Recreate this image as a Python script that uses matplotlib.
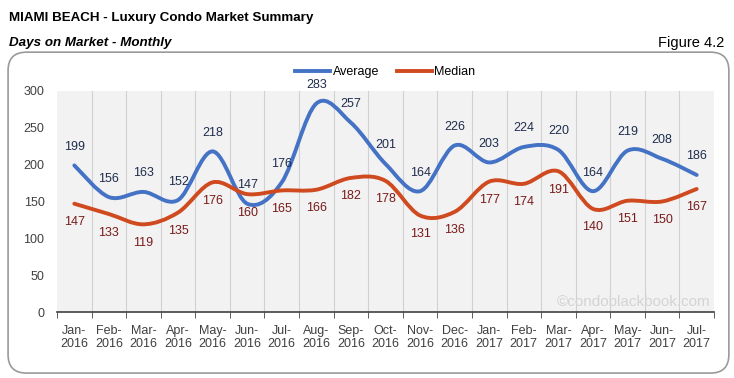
import numpy as np
import matplotlib.pyplot as plt
from matplotlib.path import Path
from matplotlib.patches import PathPatch, FancyBboxPatch

plt.rcParams['font.family'] = ['Liberation Sans', 'DejaVu Sans']

# Data
months = ['Jan-\n2016', 'Feb-\n2016', 'Mar-\n2016', 'Apr-\n2016', 'May-\n2016', 'Jun-\n2016',
          'Jul-\n2016', 'Aug-\n2016', 'Sep-\n2016', 'Oct-\n2016', 'Nov-\n2016', 'Dec-\n2016',
          'Jan-\n2017', 'Feb-\n2017', 'Mar-\n2017', 'Apr-\n2017', 'May-\n2017', 'Jun-\n2017',
          'Jul-\n2017']
average = [199, 156, 163, 152, 218, 147, 176, 283, 257, 201, 164, 226, 203, 224, 220, 164, 219, 208, 186]
median = [147, 133, 119, 135, 176, 160, 165, 166, 182, 178, 131, 136, 177, 174, 191, 140, 151, 150, 167]

BLUE = '#4472c4'
RED = '#d04a1f'


def smooth_path(x, y):
    # cubic bezier through the points (Excel-like smoothed line)
    x = np.asarray(x, float)
    y = np.asarray(y, float)
    n = len(x)
    verts = [(x[0], y[0])]
    codes = [Path.MOVETO]
    for i in range(n - 1):
        x0, y0 = (x[i - 1], y[i - 1]) if i > 0 else (x[i], y[i])
        x3, y3 = (x[i + 2], y[i + 2]) if i + 2 < n else (x[i + 1], y[i + 1])
        c1 = (x[i] + (x[i + 1] - x0) / 6, y[i] + (y[i + 1] - y0) / 6)
        c2 = (x[i + 1] - (x3 - x[i]) / 6, y[i + 1] - (y3 - y[i]) / 6)
        verts += [c1, c2, (x[i + 1], y[i + 1])]
        codes += [Path.CURVE4] * 3
    return Path(verts, codes)


fig = plt.figure(figsize=(7.34, 3.78), dpi=100)

# rounded frame
frame = FancyBboxPatch((0.011, 0.013), 0.982, 0.849, boxstyle='round,pad=0,rounding_size=0.025',
                       transform=fig.transFigure, facecolor='white', edgecolor='#9a9a9a', lw=1.2,
                       mutation_aspect=734 / 378, zorder=-5)
fig.patches.append(frame)

fig.text(0.012, 0.952, 'MIAMI BEACH - Luxury Condo Market Summary', fontsize=9.6, fontweight='bold',
         va='center', ha='left')
fig.text(0.012, 0.886, 'Days on Market - Monthly', fontsize=9.6, fontweight='bold', style='italic',
         va='center', ha='left')
fig.text(0.987, 0.886, 'Figure 4.2', fontsize=10.5, va='center', ha='right')

ax = fig.add_axes([0.0777, 0.1746, 0.895, 0.5847])
ax.set_facecolor('#f2f2f2')
x = np.arange(len(months))
ax.set_xlim(-0.5, len(months) - 0.5)
ax.set_ylim(0, 300)

for b in np.arange(0.5, len(months) - 0.5, 1):
    ax.axvline(b, color='#d0d0d0', lw=0.8, zorder=1)

ax.add_patch(PathPatch(smooth_path(x, average), facecolor='none', edgecolor=BLUE, lw=2.8, zorder=3,
                       capstyle='round'))
ax.add_patch(PathPatch(smooth_path(x, median), facecolor='none', edgecolor=RED, lw=2.8, zorder=3,
                       capstyle='round'))
ax.plot([], [], color=BLUE, lw=2.8, label='Average')
ax.plot([], [], color=RED, lw=2.8, label='Median')

for xi, v in zip(x, average):
    ax.annotate(str(v), (xi, v), xytext=(0, 9), textcoords='offset points', ha='center', va='bottom',
                fontsize=9, color='#1f2d4d', zorder=4)
for xi, v in zip(x, median):
    ax.annotate(str(v), (xi, v), xytext=(0, -9), textcoords='offset points', ha='center', va='top',
                fontsize=9, color='#7a1a1a', zorder=4)

ax.set_yticks(range(0, 301, 50))
ax.set_xticks(x)
ax.set_xticklabels(months)
ax.set_xticks(np.arange(-0.5, len(months), 1), minor=True)
ax.tick_params(axis='x', which='major', length=0, labelsize=9, colors='#404040', pad=9)
ax.tick_params(axis='x', which='minor', length=4, color='#404040', direction='out')
ax.tick_params(axis='y', length=0, labelsize=9, colors='#404040', pad=9)
for s in ['top', 'right', 'left']:
    ax.spines[s].set_visible(False)
ax.spines['bottom'].set_color('#404040')
ax.spines['bottom'].set_linewidth(1.2)

ax.text(0.995, 0.015, '\u00a9condoblackbook.com', transform=ax.transAxes, ha='right', va='bottom',
        fontsize=11, color='#d4d4d4', zorder=2)

ax.legend(loc='lower center', bbox_to_anchor=(0.5, 1.0), ncol=2, frameon=False, fontsize=9,
          handlelength=2.8, columnspacing=1.4, handletextpad=0.2, borderaxespad=0.6)

fig.savefig('out.png', dpi=100)
